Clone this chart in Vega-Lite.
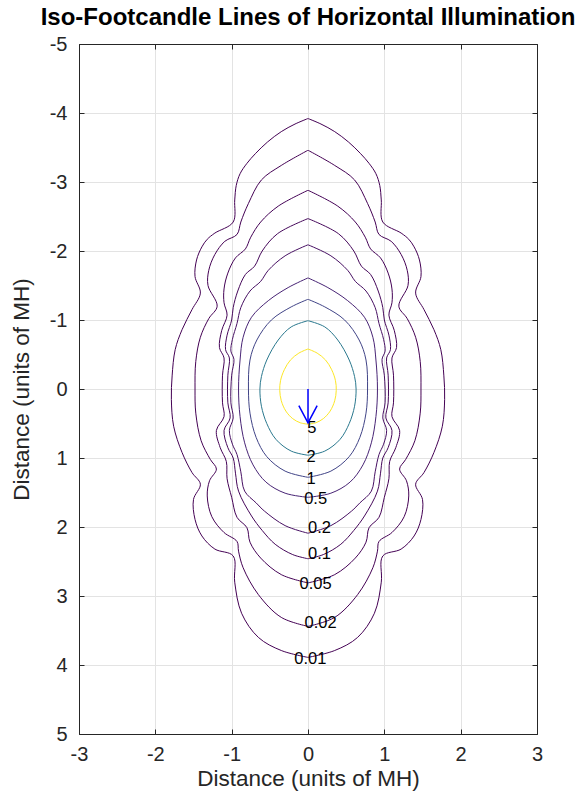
{
  "$schema": "https://vega.github.io/schema/vega-lite/v6.json",
  "width": 458,
  "height": 690,
  "autosize": "none",
  "padding": {"left": 79, "top": 44, "right": 38, "bottom": 61},
  "background": "white",
  "title": {"text": "Iso-Footcandle Lines of Horizontal Illumination", "font": "Liberation Sans", "fontSize": 24, "fontWeight": "bold", "color": "black", "anchor": "middle", "offset": 4},
  "config": {
    "view": {"stroke": "#262626", "strokeWidth": 1},
    "axis": {"domainColor": "#262626", "tickColor": "#262626", "gridColor": "#e3e3e3", "labelFont": "Liberation Sans", "titleFont": "Liberation Sans", "labelColor": "#262626", "titleColor": "#262626", "titleFontWeight": "normal", "labelFontSize": 20, "titleFontSize": 22.5}
  },
  "datasets": {
    "contours": [
      {"lv":"0.01","i":0,"xr":0,"xl":0,"y":-3.92},
      {"lv":"0.01","i":1,"xr":0.17,"xl":-0.17,"y":-3.84},
      {"lv":"0.01","i":2,"xr":0.35,"xl":-0.35,"y":-3.73},
      {"lv":"0.01","i":3,"xr":0.53,"xl":-0.53,"y":-3.58},
      {"lv":"0.01","i":4,"xr":0.69,"xl":-0.69,"y":-3.41},
      {"lv":"0.01","i":5,"xr":0.80,"xl":-0.80,"y":-3.27},
      {"lv":"0.01","i":6,"xr":0.89,"xl":-0.89,"y":-3.12},
      {"lv":"0.01","i":7,"xr":0.94,"xl":-0.94,"y":-2.95},
      {"lv":"0.01","i":8,"xr":0.96,"xl":-0.96,"y":-2.74},
      {"lv":"0.01","i":9,"xr":0.98,"xl":-0.98,"y":-2.42},
      {"lv":"0.01","i":10,"xr":1.22,"xl":-1.22,"y":-2.26},
      {"lv":"0.01","i":11,"xr":1.32,"xl":-1.32,"y":-2.17},
      {"lv":"0.01","i":12,"xr":1.39,"xl":-1.39,"y":-2.06},
      {"lv":"0.01","i":13,"xr":1.46,"xl":-1.46,"y":-1.87},
      {"lv":"0.01","i":14,"xr":1.48,"xl":-1.48,"y":-1.63},
      {"lv":"0.01","i":15,"xr":1.41,"xl":-1.41,"y":-1.39},
      {"lv":"0.01","i":16,"xr":1.52,"xl":-1.52,"y":-1.15},
      {"lv":"0.01","i":17,"xr":1.65,"xl":-1.65,"y":-0.86},
      {"lv":"0.01","i":18,"xr":1.74,"xl":-1.74,"y":-0.57},
      {"lv":"0.01","i":19,"xr":1.78,"xl":-1.78,"y":-0.19},
      {"lv":"0.01","i":20,"xr":1.79,"xl":-1.79,"y":0.15},
      {"lv":"0.01","i":21,"xr":1.76,"xl":-1.76,"y":0.54},
      {"lv":"0.01","i":22,"xr":1.65,"xl":-1.65,"y":0.92},
      {"lv":"0.01","i":23,"xr":1.52,"xl":-1.52,"y":1.21},
      {"lv":"0.01","i":24,"xr":1.41,"xl":-1.41,"y":1.38},
      {"lv":"0.01","i":25,"xr":1.50,"xl":-1.50,"y":1.60},
      {"lv":"0.01","i":26,"xr":1.48,"xl":-1.48,"y":1.89},
      {"lv":"0.01","i":27,"xr":1.39,"xl":-1.39,"y":2.13},
      {"lv":"0.01","i":28,"xr":1.22,"xl":-1.22,"y":2.32},
      {"lv":"0.01","i":29,"xr":0.98,"xl":-0.98,"y":2.42},
      {"lv":"0.01","i":30,"xr":0.96,"xl":-0.96,"y":2.80},
      {"lv":"0.01","i":31,"xr":0.87,"xl":-0.87,"y":3.25},
      {"lv":"0.01","i":32,"xr":0.65,"xl":-0.65,"y":3.60},
      {"lv":"0.01","i":33,"xr":0.35,"xl":-0.35,"y":3.79},
      {"lv":"0.01","i":34,"xr":0,"xl":0,"y":3.89},

      {"lv":"0.02","i":0,"xr":0,"xl":0,"y":-3.46},
      {"lv":"0.02","i":1,"xr":0.35,"xl":-0.35,"y":-3.24},
      {"lv":"0.02","i":2,"xr":0.61,"xl":-0.61,"y":-3.03},
      {"lv":"0.02","i":3,"xr":0.78,"xl":-0.78,"y":-2.69},
      {"lv":"0.02","i":4,"xr":0.88,"xl":-0.88,"y":-2.42},
      {"lv":"0.02","i":5,"xr":0.93,"xl":-0.93,"y":-2.24},
      {"lv":"0.02","i":6,"xr":1.09,"xl":-1.09,"y":-2.14},
      {"lv":"0.02","i":7,"xr":1.22,"xl":-1.22,"y":-1.95},
      {"lv":"0.02","i":8,"xr":1.30,"xl":-1.30,"y":-1.72},
      {"lv":"0.02","i":9,"xr":1.31,"xl":-1.31,"y":-1.50},
      {"lv":"0.02","i":10,"xr":1.19,"xl":-1.19,"y":-1.20},
      {"lv":"0.02","i":11,"xr":1.30,"xl":-1.30,"y":-1.02},
      {"lv":"0.02","i":12,"xr":1.41,"xl":-1.41,"y":-0.75},
      {"lv":"0.02","i":13,"xr":1.47,"xl":-1.47,"y":-0.40},
      {"lv":"0.02","i":14,"xr":1.48,"xl":-1.48,"y":0},
      {"lv":"0.02","i":15,"xr":1.47,"xl":-1.47,"y":0.35},
      {"lv":"0.02","i":16,"xr":1.40,"xl":-1.40,"y":0.75},
      {"lv":"0.02","i":17,"xr":1.28,"xl":-1.28,"y":1.02},
      {"lv":"0.02","i":18,"xr":1.20,"xl":-1.20,"y":1.16},
      {"lv":"0.02","i":19,"xr":1.29,"xl":-1.29,"y":1.33},
      {"lv":"0.02","i":20,"xr":1.32,"xl":-1.32,"y":1.55},
      {"lv":"0.02","i":21,"xr":1.26,"xl":-1.26,"y":1.85},
      {"lv":"0.02","i":22,"xr":1.10,"xl":-1.10,"y":2.08},
      {"lv":"0.02","i":23,"xr":0.93,"xl":-0.93,"y":2.21},
      {"lv":"0.02","i":24,"xr":0.91,"xl":-0.91,"y":2.35},
      {"lv":"0.02","i":25,"xr":0.85,"xl":-0.85,"y":2.59},
      {"lv":"0.02","i":26,"xr":0.65,"xl":-0.65,"y":2.98},
      {"lv":"0.02","i":27,"xr":0.35,"xl":-0.35,"y":3.31},
      {"lv":"0.02","i":28,"xr":0,"xl":0,"y":3.44},

      {"lv":"0.05","i":0,"xr":0,"xl":0,"y":-2.88},
      {"lv":"0.05","i":1,"xr":0.39,"xl":-0.39,"y":-2.65},
      {"lv":"0.05","i":2,"xr":0.62,"xl":-0.62,"y":-2.42},
      {"lv":"0.05","i":3,"xr":0.75,"xl":-0.75,"y":-2.20},
      {"lv":"0.05","i":4,"xr":0.82,"xl":-0.82,"y":-2.03},
      {"lv":"0.05","i":5,"xr":0.95,"xl":-0.95,"y":-1.90},
      {"lv":"0.05","i":6,"xr":1.05,"xl":-1.05,"y":-1.68},
      {"lv":"0.05","i":7,"xr":1.10,"xl":-1.10,"y":-1.45},
      {"lv":"0.05","i":8,"xr":1.10,"xl":-1.10,"y":-1.25},
      {"lv":"0.05","i":9,"xr":1.06,"xl":-1.06,"y":-1.07},
      {"lv":"0.05","i":10,"xr":1.13,"xl":-1.13,"y":-0.85},
      {"lv":"0.05","i":11,"xr":1.16,"xl":-1.16,"y":-0.60},
      {"lv":"0.05","i":12,"xr":1.10,"xl":-1.10,"y":-0.45},
      {"lv":"0.05","i":13,"xr":1.12,"xl":-1.12,"y":-0.20},
      {"lv":"0.05","i":14,"xr":1.12,"xl":-1.12,"y":0.20},
      {"lv":"0.05","i":15,"xr":1.10,"xl":-1.10,"y":0.40},
      {"lv":"0.05","i":16,"xr":1.20,"xl":-1.20,"y":0.60},
      {"lv":"0.05","i":17,"xr":1.15,"xl":-1.15,"y":0.85},
      {"lv":"0.05","i":18,"xr":1.07,"xl":-1.07,"y":1.05},
      {"lv":"0.05","i":19,"xr":1.06,"xl":-1.06,"y":1.30},
      {"lv":"0.05","i":20,"xr":1.00,"xl":-1.00,"y":1.57},
      {"lv":"0.05","i":21,"xr":0.93,"xl":-0.93,"y":1.86},
      {"lv":"0.05","i":22,"xr":0.80,"xl":-0.80,"y":2.01},
      {"lv":"0.05","i":23,"xr":0.76,"xl":-0.76,"y":2.22},
      {"lv":"0.05","i":24,"xr":0.62,"xl":-0.62,"y":2.45},
      {"lv":"0.05","i":25,"xr":0.35,"xl":-0.35,"y":2.69},
      {"lv":"0.05","i":26,"xr":0,"xl":0,"y":2.81},

      {"lv":"0.1","i":0,"xr":0,"xl":0,"y":-2.47},
      {"lv":"0.1","i":1,"xr":0.40,"xl":-0.40,"y":-2.25},
      {"lv":"0.1","i":2,"xr":0.60,"xl":-0.60,"y":-2.00},
      {"lv":"0.1","i":3,"xr":0.70,"xl":-0.70,"y":-1.78},
      {"lv":"0.1","i":4,"xr":0.82,"xl":-0.82,"y":-1.66},
      {"lv":"0.1","i":5,"xr":0.92,"xl":-0.92,"y":-1.42},
      {"lv":"0.1","i":6,"xr":0.98,"xl":-0.98,"y":-1.18},
      {"lv":"0.1","i":7,"xr":1.00,"xl":-1.00,"y":-1.00},
      {"lv":"0.1","i":8,"xr":1.06,"xl":-1.06,"y":-0.78},
      {"lv":"0.1","i":9,"xr":1.08,"xl":-1.08,"y":-0.57},
      {"lv":"0.1","i":10,"xr":1.03,"xl":-1.03,"y":-0.45},
      {"lv":"0.1","i":11,"xr":1.05,"xl":-1.05,"y":-0.20},
      {"lv":"0.1","i":12,"xr":1.05,"xl":-1.05,"y":0.20},
      {"lv":"0.1","i":13,"xr":1.02,"xl":-1.02,"y":0.42},
      {"lv":"0.1","i":14,"xr":1.10,"xl":-1.10,"y":0.60},
      {"lv":"0.1","i":15,"xr":1.05,"xl":-1.05,"y":0.85},
      {"lv":"0.1","i":16,"xr":0.98,"xl":-0.98,"y":1.00},
      {"lv":"0.1","i":17,"xr":0.95,"xl":-0.95,"y":1.22},
      {"lv":"0.1","i":18,"xr":0.91,"xl":-0.91,"y":1.48},
      {"lv":"0.1","i":19,"xr":0.74,"xl":-0.74,"y":1.84},
      {"lv":"0.1","i":20,"xr":0.60,"xl":-0.60,"y":2.05},
      {"lv":"0.1","i":21,"xr":0.43,"xl":-0.43,"y":2.25},
      {"lv":"0.1","i":22,"xr":0.20,"xl":-0.20,"y":2.40},
      {"lv":"0.1","i":23,"xr":0,"xl":0,"y":2.46},

      {"lv":"0.2","i":0,"xr":0,"xl":0,"y":-2.09},
      {"lv":"0.2","i":1,"xr":0.30,"xl":-0.30,"y":-1.93},
      {"lv":"0.2","i":2,"xr":0.52,"xl":-0.52,"y":-1.72},
      {"lv":"0.2","i":3,"xr":0.62,"xl":-0.62,"y":-1.56},
      {"lv":"0.2","i":4,"xr":0.76,"xl":-0.76,"y":-1.42},
      {"lv":"0.2","i":5,"xr":0.88,"xl":-0.88,"y":-1.18},
      {"lv":"0.2","i":6,"xr":0.93,"xl":-0.93,"y":-0.95},
      {"lv":"0.2","i":7,"xr":0.99,"xl":-0.99,"y":-0.72},
      {"lv":"0.2","i":8,"xr":1.01,"xl":-1.01,"y":-0.55},
      {"lv":"0.2","i":9,"xr":0.97,"xl":-0.97,"y":-0.43},
      {"lv":"0.2","i":10,"xr":1.00,"xl":-1.00,"y":-0.20},
      {"lv":"0.2","i":11,"xr":1.01,"xl":-1.01,"y":0.20},
      {"lv":"0.2","i":12,"xr":0.98,"xl":-0.98,"y":0.42},
      {"lv":"0.2","i":13,"xr":1.03,"xl":-1.03,"y":0.60},
      {"lv":"0.2","i":14,"xr":0.99,"xl":-0.99,"y":0.80},
      {"lv":"0.2","i":15,"xr":0.93,"xl":-0.93,"y":0.95},
      {"lv":"0.2","i":16,"xr":0.88,"xl":-0.88,"y":1.20},
      {"lv":"0.2","i":17,"xr":0.83,"xl":-0.83,"y":1.48},
      {"lv":"0.2","i":18,"xr":0.68,"xl":-0.68,"y":1.65},
      {"lv":"0.2","i":19,"xr":0.57,"xl":-0.57,"y":1.77},
      {"lv":"0.2","i":20,"xr":0.30,"xl":-0.30,"y":1.98},
      {"lv":"0.2","i":21,"xr":0,"xl":0,"y":2.09},

      {"lv":"0.5","i":0,"xr":0,"xl":0,"y":-1.61},
      {"lv":"0.5","i":1,"xr":0.26,"xl":-0.26,"y":-1.47},
      {"lv":"0.5","i":2,"xr":0.52,"xl":-0.52,"y":-1.28},
      {"lv":"0.5","i":3,"xr":0.74,"xl":-0.74,"y":-1.04},
      {"lv":"0.5","i":4,"xr":0.85,"xl":-0.85,"y":-0.75},
      {"lv":"0.5","i":5,"xr":0.89,"xl":-0.89,"y":-0.42},
      {"lv":"0.5","i":6,"xr":0.91,"xl":-0.91,"y":0},
      {"lv":"0.5","i":7,"xr":0.89,"xl":-0.89,"y":0.40},
      {"lv":"0.5","i":8,"xr":0.83,"xl":-0.83,"y":0.78},
      {"lv":"0.5","i":9,"xr":0.72,"xl":-0.72,"y":1.10},
      {"lv":"0.5","i":10,"xr":0.55,"xl":-0.55,"y":1.35},
      {"lv":"0.5","i":11,"xr":0.30,"xl":-0.30,"y":1.51},
      {"lv":"0.5","i":12,"xr":0,"xl":0,"y":1.57},

      {"lv":"1","i":0,"xr":0,"xl":0,"y":-1.30},
      {"lv":"1","i":1,"xr":0.22,"xl":-0.22,"y":-1.19},
      {"lv":"1","i":2,"xr":0.48,"xl":-0.48,"y":-1.00},
      {"lv":"1","i":3,"xr":0.67,"xl":-0.67,"y":-0.71},
      {"lv":"1","i":4,"xr":0.76,"xl":-0.76,"y":-0.42},
      {"lv":"1","i":5,"xr":0.78,"xl":-0.78,"y":0},
      {"lv":"1","i":6,"xr":0.76,"xl":-0.76,"y":0.35},
      {"lv":"1","i":7,"xr":0.68,"xl":-0.68,"y":0.70},
      {"lv":"1","i":8,"xr":0.54,"xl":-0.54,"y":0.98},
      {"lv":"1","i":9,"xr":0.30,"xl":-0.30,"y":1.19},
      {"lv":"1","i":10,"xr":0,"xl":0,"y":1.28},

      {"lv":"2","i":0,"xr":0,"xl":0,"y":-0.99},
      {"lv":"2","i":1,"xr":0.22,"xl":-0.22,"y":-0.90},
      {"lv":"2","i":2,"xr":0.39,"xl":-0.39,"y":-0.71},
      {"lv":"2","i":3,"xr":0.54,"xl":-0.54,"y":-0.42},
      {"lv":"2","i":4,"xr":0.61,"xl":-0.61,"y":-0.18},
      {"lv":"2","i":5,"xr":0.63,"xl":-0.63,"y":0},
      {"lv":"2","i":6,"xr":0.61,"xl":-0.61,"y":0.25},
      {"lv":"2","i":7,"xr":0.54,"xl":-0.54,"y":0.50},
      {"lv":"2","i":8,"xr":0.42,"xl":-0.42,"y":0.73},
      {"lv":"2","i":9,"xr":0.22,"xl":-0.22,"y":0.90},
      {"lv":"2","i":10,"xr":0,"xl":0,"y":0.96},

      {"lv":"5","i":0,"xr":0,"xl":0,"y":-0.58},
      {"lv":"5","i":1,"xr":0.12,"xl":-0.12,"y":-0.52},
      {"lv":"5","i":2,"xr":0.23,"xl":-0.23,"y":-0.42},
      {"lv":"5","i":3,"xr":0.31,"xl":-0.31,"y":-0.28},
      {"lv":"5","i":4,"xr":0.36,"xl":-0.36,"y":-0.12},
      {"lv":"5","i":5,"xr":0.37,"xl":-0.37,"y":0.02},
      {"lv":"5","i":6,"xr":0.35,"xl":-0.35,"y":0.17},
      {"lv":"5","i":7,"xr":0.29,"xl":-0.29,"y":0.32},
      {"lv":"5","i":8,"xr":0.20,"xl":-0.20,"y":0.43},
      {"lv":"5","i":9,"xr":0.10,"xl":-0.10,"y":0.49},
      {"lv":"5","i":10,"xr":0,"xl":0,"y":0.51}
    ],
    "labels": [
      {"lv":"5","x":0.05,"y":0.57},
      {"lv":"2","x":0.04,"y":0.99},
      {"lv":"1","x":0.04,"y":1.31},
      {"lv":"0.5","x":0.10,"y":1.60},
      {"lv":"0.2","x":0.15,"y":2.02},
      {"lv":"0.1","x":0.15,"y":2.39},
      {"lv":"0.05","x":0.10,"y":2.82},
      {"lv":"0.02","x":0.165,"y":3.39},
      {"lv":"0.01","x":0.03,"y":3.92}
    ],
    "arrow": [
      {"seg":"shaft","i":0,"x":0,"y":0},
      {"seg":"shaft","i":1,"x":0,"y":0.49},
      {"seg":"head","i":0,"x":-0.12,"y":0.24},
      {"seg":"head","i":1,"x":0,"y":0.49},
      {"seg":"head","i":2,"x":0.12,"y":0.24}
    ]
  },
  "resolve": {"axis": {"x": "independent", "y": "independent"}},
  "layer": [
    {
      "data": {"name": "contours"},
      "transform": [{"fold": ["xr", "xl"], "as": ["side", "xv"]}],
      "mark": {"type": "line", "strokeWidth": 1, "interpolate": "catmull-rom"},
      "encoding": {
        "x": {"field": "xv", "type": "quantitative", "scale": {"domain": [-3, 3], "nice": false, "zero": false},
              "axis": {"orient": "bottom", "values": [-3,-2,-1,0,1,2,3], "labelExpr": "'' + datum.value", "grid": true, "tickSize": -5, "labelPadding": 15, "title": "Distance (units of MH)", "titlePadding": 3, "labelFlush": false}},
        "y": {"field": "y", "type": "quantitative", "scale": {"domain": [-5, 5], "nice": false, "zero": false, "reverse": true},
              "axis": {"orient": "left", "values": [-5,-4,-3,-2,-1,0,1,2,3,4,5], "labelExpr": "'' + datum.value", "grid": true, "tickSize": -5, "labelPadding": 17, "title": "Distance (units of MH)", "titlePadding": 16, "labelFlush": false}},
        "color": {"field": "lv", "type": "nominal", "legend": null,
                  "scale": {"domain": ["0.01","0.02","0.05","0.1","0.2","0.5","1","2","5"],
                            "range": ["#440154","#440154","#440256","#45075a","#471063","#482475","#414487","#2a788e","#fde725"]}},
        "detail": {"field": "side", "type": "nominal"},
        "order": {"field": "i", "type": "quantitative"}
      }
    },
    {
      "data": {"name": "labels"},
      "mark": {"type": "text", "font": "Liberation Sans", "fontSize": 16.5, "color": "black", "align": "center", "baseline": "middle"},
      "encoding": {
        "x": {"field": "x", "type": "quantitative", "axis": null},
        "y": {"field": "y", "type": "quantitative", "axis": null},
        "text": {"field": "lv", "type": "nominal"}
      }
    },
    {
      "data": {"name": "arrow"},
      "mark": {"type": "line", "color": "#0000ff", "strokeWidth": 1.5},
      "encoding": {
        "x": {"field": "x", "type": "quantitative",
              "axis": {"orient": "top", "values": [-3,-2,-1,0,1,2,3], "labels": false, "grid": false, "tickSize": -5, "title": null, "domain": true}},
        "y": {"field": "y", "type": "quantitative",
              "axis": {"orient": "right", "values": [-5,-4,-3,-2,-1,0,1,2,3,4,5], "labels": false, "grid": false, "tickSize": -5, "title": null, "domain": true}},
        "detail": {"field": "seg", "type": "nominal"},
        "order": {"field": "i", "type": "quantitative"}
      }
    }
  ]
}
